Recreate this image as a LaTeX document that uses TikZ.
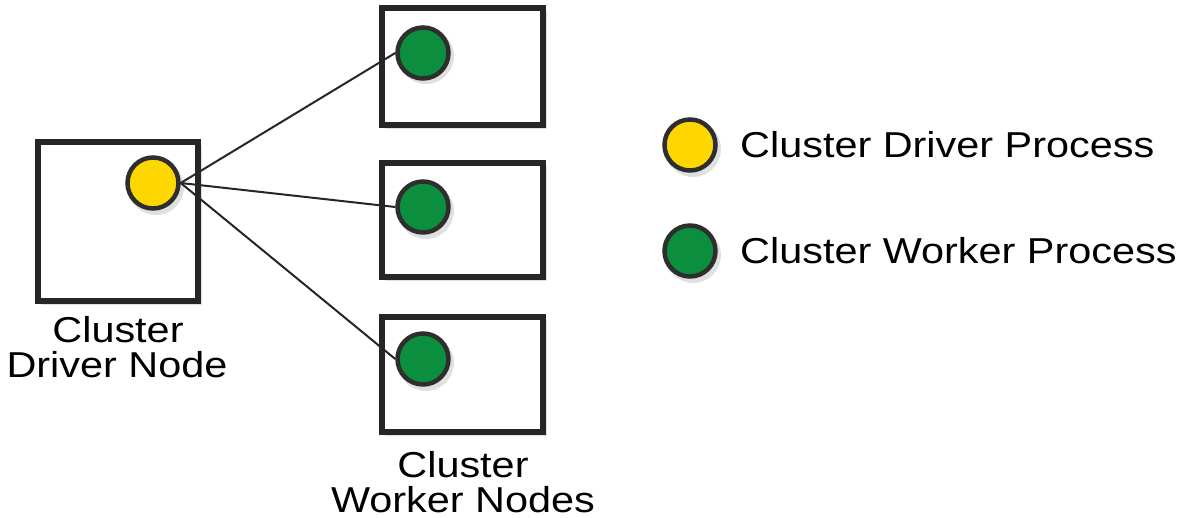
\documentclass[tikz,border=0pt]{standalone}
\usepackage{fontspec}
\setmainfont[FakeStretch=1.15]{Liberation Sans}
\begin{document}
\begin{tikzpicture}[x=1pt,y=-1pt,
  proc/.style={circle,draw=black!82,line width=4.5pt,fill=#1,minimum size=51pt,inner sep=0pt},
  link/.style={draw=black!85,line width=2pt},
  lbl/.style={font=\fontsize{36}{36}\selectfont,text=black,inner sep=0pt,text height=27pt,text depth=1pt,anchor=base},
  shadow/.style={fill=black,opacity=0.12}]
\useasboundingbox (0,0) rectangle (1202,518);
\definecolor{ylw}{HTML}{FFD700}
\definecolor{grn}{HTML}{0B8E3E}
\tikzset{boxst/.style={draw=black!85,line width=6pt,fill=white,inner sep=0pt}}
% shadows
\fill[shadow] (41,145) rectangle (202,305);
\foreach \y/\h in {8/125,163/277,317/432}{\fill[shadow] (385,\y+3) rectangle (547,\h+4);}
% boxes
\node[boxst,minimum width=160pt,minimum height=159pt] (drv) at (118,221.5) {};
\node[boxst,minimum width=161pt,minimum height=117pt] (w1) at (462.5,66.5) {};
\node[boxst,minimum width=161pt,minimum height=114pt] (w2) at (462.5,220) {};
\node[boxst,minimum width=161pt,minimum height=115pt] (w3) at (462.5,374.5) {};
% process shadows
\foreach \x/\y in {156/187,426/56,426/211,426/363,693/149,693/255}{\fill[shadow] (\x,\y) circle (28);}
% processes
\node[proc=ylw] (dp) at (153,183) {};
\node[proc=grn] (g1) at (423,53) {};
\node[proc=grn] (g2) at (423,207) {};
\node[proc=grn] (g3) at (423,359) {};
% connectors
\draw[link] (dp.east) -- (g1.west);
\draw[link] (dp.east) -- (g2.west);
\draw[link] (dp.east) -- (g3.west);
% labels
\node[lbl] (dl1) at (118,343) {Cluster};
\node[lbl] (dl2) at (117,378) {Driver Node};
\node[lbl] (wl1) at (463,477) {Cluster};
\node[lbl] (wl2) at (463,512) {Worker Nodes};
% legend
\node[proc=ylw] (ly) at (690,145) {};
\node[proc=grn] (lg) at (690,251) {};
\node[lbl,anchor=base west] (ty) at (740,158) {Cluster Driver Process};
\node[lbl,anchor=base west] (tg) at (740,264) {Cluster Worker Process};
\end{tikzpicture}
\end{document}
